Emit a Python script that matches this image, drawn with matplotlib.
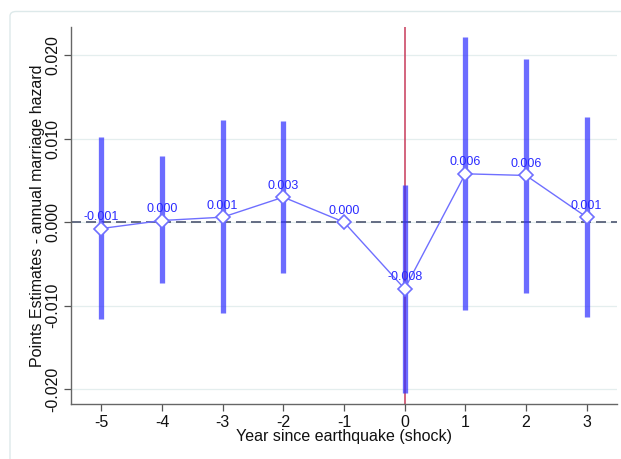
import matplotlib
matplotlib.use("Agg")
import matplotlib.pyplot as plt
from matplotlib.patches import FancyBboxPatch

plt.rcParams['font.family'] = ['Liberation Sans', 'DejaVu Sans']

# event-study estimates, year -1 is the reference year
years = [-5, -4, -3, -2, -1, 0, 1, 2, 3]
coef = [-0.00076, 0.0002, 0.0006, 0.0030, 0.0, -0.0080, 0.0058, 0.0056, 0.0006]
ci_low = [-0.0116, -0.0073, -0.0109, -0.0061, None, -0.0205, -0.0105, -0.0085, -0.0114]
ci_high = [0.0102, 0.0079, 0.0123, 0.0121, None, 0.0044, 0.0222, 0.0196, 0.0126]
labels = ['-0.001', '0.000', '0.001', '0.003', '0.000', '-0.008', '0.006', '0.006', '0.001']

yticks = [-0.02, -0.01, 0.0, 0.01, 0.02]
ytick_labels = ['-0.020', '-0.010', '0.000', '0.010', '0.020']

blue = '#3333ff'
line_blue = '#6f6fff'

fig = plt.figure(figsize=(6.21, 4.59), dpi=100)
# light outer frame
frame = FancyBboxPatch((10 / 621, -0.05), 1.1, 1.05 - 11.5 / 459,
                       boxstyle="round,pad=0,rounding_size=0.01",
                       transform=fig.transFigure, facecolor='none',
                       edgecolor='#dde9ea', linewidth=1.0, zorder=-1)
fig.patches.append(frame)

ax = fig.add_axes([71 / 621, 55 / 459, 546 / 621, 377 / 459])
ax.set_facecolor('none')

ax.set_xlim(-5.5, 3.5)
ax.set_ylim(-0.0218, 0.0234)

for y in yticks:
    ax.axhline(y, color='#e4eeee', linewidth=0.9, zorder=0)

ax.axvline(0, color='#c83a5a', linewidth=1.1, zorder=1)
ax.axhline(0, color='#4c5670', linewidth=1.2, dashes=(6, 3), zorder=2)

for x, lo, hi in zip(years, ci_low, ci_high):
    if lo is None:
        continue
    ax.vlines(x, lo, hi, color=blue, alpha=0.72, linewidth=3.8, zorder=3)

ax.plot(years, coef, color=line_blue, linewidth=1.0, zorder=4,
        marker='D', markersize=7, markerfacecolor='white',
        markeredgecolor=line_blue, markeredgewidth=1.2)

for x, y, txt in zip(years, coef, labels):
    ax.annotate(txt, (x, y), xytext=(0, 4), textcoords='offset points',
                ha='center', va='bottom', fontsize=9, color='#2a2aff', zorder=5)

ax.set_xticks(years)
ax.set_xticklabels([str(v) for v in years])
ax.set_yticks(yticks)
ax.set_yticklabels(ytick_labels, rotation=90, va='center')

for side in ('top', 'right'):
    ax.spines[side].set_visible(False)
for side in ('left', 'bottom'):
    ax.spines[side].set_color('#666666')
    ax.spines[side].set_linewidth(1.0)

ax.tick_params(axis='both', direction='out', length=5, width=0.9,
               color='#555555', labelsize=11.5, labelcolor='#111111')
ax.tick_params(axis='x', pad=3)
ax.tick_params(axis='y', pad=3)

ax.set_xlabel('Year since earthquake (shock)', fontsize=11.5, color='#111111', labelpad=-1)
ax.set_ylabel('Points Estimates - annual marriage hazard', fontsize=11.5,
              color='#111111', labelpad=0)

fig.savefig('out.png', dpi=100)
